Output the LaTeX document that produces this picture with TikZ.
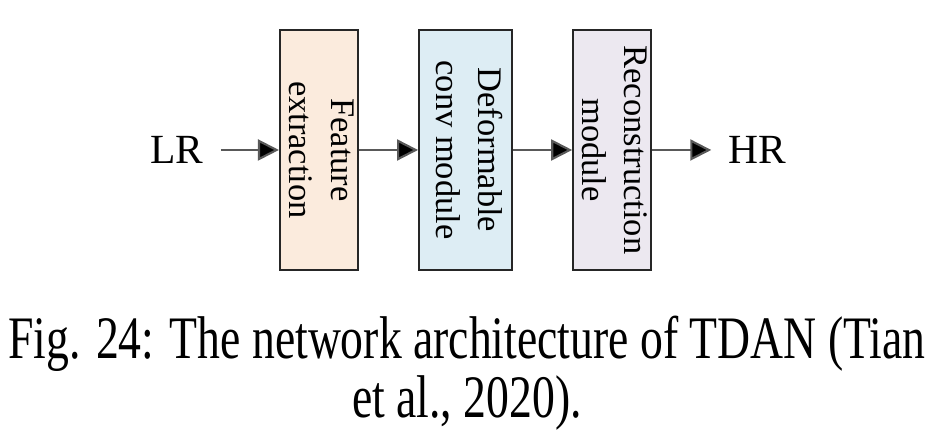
\documentclass[tikz,border=0pt]{standalone}
\usepackage{fontspec}
\setmainfont{Liberation Serif}
\usetikzlibrary{arrows.meta,positioning}

\newcommand{\sidetext}[1]{\makebox[0pt]{\rotatebox{-90}{\begin{tabular}{@{}c@{}}#1\end{tabular}}}}

\begin{document}
\begin{tikzpicture}[
  node distance=5.9mm and 5.9mm,
  block/.style={rectangle, draw=black!85, line width=0.6pt, inner sep=0pt, minimum width=7.8mm, minimum height=24mm, font=\fontsize{9.8}{12}\selectfont},
  io/.style={inner xsep=1.7mm, inner ysep=0pt, font=\fontsize{11.8}{13}\selectfont},
  caption/.style={align=center, inner sep=0pt, yscale=1.32, transform shape, font=\fontsize{13}{9.7}\selectfont},
  arrow/.style={draw=black!65, line width=0.6pt, -{Triangle[length=2.1mm, width=2.1mm, fill=black]}}]

\useasboundingbox (0,0) rectangle (9.34,4.31);

\node[block, fill={rgb,255:red,251;green,235;blue,221}] (feat) at (3.19,2.81) {\sidetext{Feature\\extraction}};
\node[block, right=of feat, minimum width=9.3mm, fill={rgb,255:red,221;green,237;blue,244}] (deform) {\sidetext{Deformable\\conv module}};
\node[block, right=of deform, fill={rgb,255:red,236;green,232;blue,240}] (recon) {\sidetext{Reconstruction\\module}};
\node[io, left=5.8mm of feat] (lr) {LR};
\node[io, right=5.9mm of recon] (hr) {HR};

\draw[arrow] (lr) -- (feat);
\draw[arrow] (feat) -- (deform);
\draw[arrow] (deform) -- (recon);
\draw[arrow] (recon) -- (hr);

\node[caption, anchor=north] (cap) at (4.67,1.16) {Fig. 24: The network architecture of TDAN (Tian\\et al., 2020).};

\end{tikzpicture}
\end{document}
